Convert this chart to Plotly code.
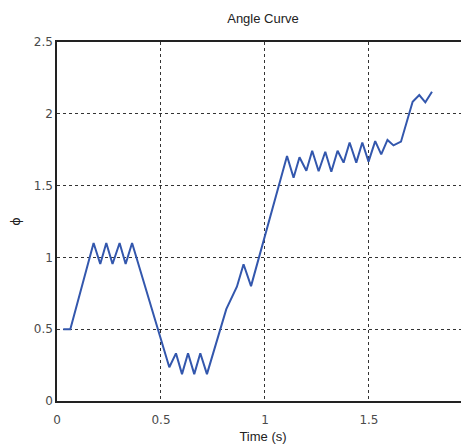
import plotly.graph_objects as go

time_s = [0.03, 0.064, 0.176, 0.208, 0.237, 0.267, 0.301, 0.330, 0.361,
          0.540, 0.572, 0.601, 0.630, 0.660, 0.689, 0.721,
          0.814, 0.865, 0.897, 0.933, 1.106, 1.1375, 1.166, 1.199, 1.227,
          1.258, 1.290, 1.319, 1.349, 1.378, 1.407, 1.439, 1.468, 1.498,
          1.530, 1.559, 1.589, 1.618, 1.654, 1.710, 1.742, 1.771, 1.803]
phi = [0.50, 0.50, 1.10, 0.954, 1.10, 0.954, 1.10, 0.954, 1.10,
       0.235, 0.332, 0.187, 0.332, 0.187, 0.332, 0.187,
       0.64, 0.796, 0.952, 0.80, 1.706, 1.555, 1.697, 1.604, 1.743,
       1.60, 1.736, 1.597, 1.743, 1.66, 1.80, 1.66, 1.80, 1.667,
       1.81, 1.718, 1.818, 1.78, 1.806, 2.084, 2.131, 2.08, 2.154]

x_ticks = [0, 0.5, 1, 1.5, 2]
y_ticks = [0, 0.5, 1, 1.5, 2, 2.5]

fig = go.Figure(go.Scatter(x=time_s, y=phi, mode="lines",
                           line=dict(color="#3357ad", width=2)))

tickfont = dict(family="DejaVu Sans", size=12, color="#4a4a4a")
fig.update_layout(
    width=469, height=447,
    margin=dict(l=49, r=8, t=34, b=54),
    paper_bgcolor="white", plot_bgcolor="white",
    showlegend=False,
    title=dict(text="Angle Curve", x=0.5, xref="paper", y=1 - 10 / 447, yanchor="middle",
               font=dict(family="Liberation Sans", size=13, color="#222")),
    xaxis=dict(range=[0, 1.981], tickvals=x_ticks, ticktext=[str(v) for v in x_ticks],
               showgrid=True, gridcolor="#333", griddash="3px,3px", gridwidth=1,
               zeroline=False, showline=True, linecolor="#222", linewidth=1.5, mirror=True,
               ticks="", tickfont=tickfont, ticklabelstandoff=7, automargin=False,
               title=dict(text="Time (s)", standoff=6,
                          font=dict(family="Liberation Sans", size=13, color="#222"))),
    yaxis=dict(range=[0, 2.5], tickvals=y_ticks, ticktext=["0", "0.5", "1", "1.5", "2", "2.5"],
               showgrid=True, gridcolor="#333", griddash="3px,3px", gridwidth=1,
               zeroline=False, showline=True, linecolor="#222", linewidth=1.5,
               ticks="", tickfont=tickfont, automargin=False,
               title=dict(text="ϕ", standoff=14,
                          font=dict(family="DejaVu Sans", size=13, color="#222"))),
)
fig.write_html("out.html")
